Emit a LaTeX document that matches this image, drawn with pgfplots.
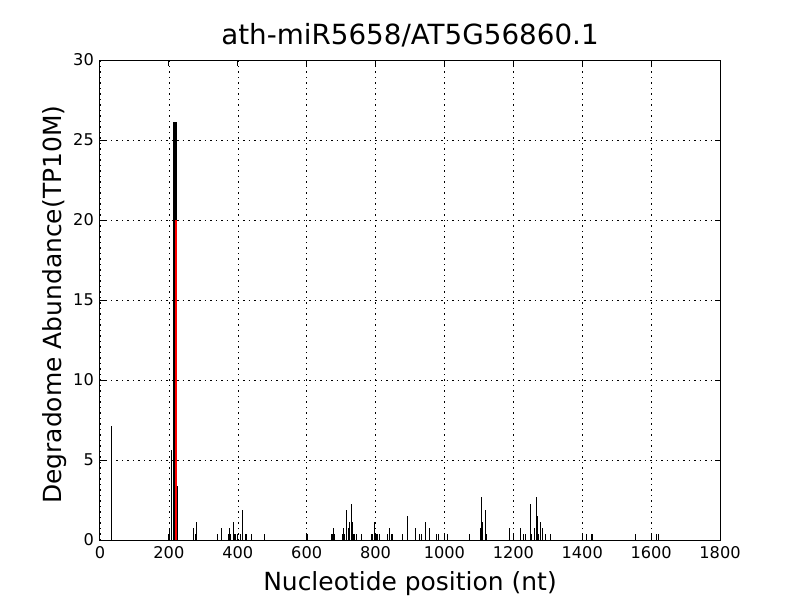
\documentclass[border=0pt]{standalone}
\usepackage{fontspec}
\setmainfont{DejaVu Sans}
\usepackage{pgfplots}
\pgfplotsset{compat=1.18}

\begin{document}
\begin{tikzpicture}
% page = 800x600 px, 1 px = 0.02 cm
\useasboundingbox (-2cm,-1.2cm) rectangle (14cm,10.8cm);
\begin{axis}[
  scale only axis,width=12.4cm,height=9.6cm,
  xmin=0,xmax=1800,ymin=0,ymax=30,
  xtick={0,200,...,1800},ytick={0,5,...,30},
  /pgf/number format/1000 sep={},
  /pgf/number format/assume math mode=true,
  tick label style={font=\fontsize{9.2}{11}\selectfont},
  tick align=inside,major tick length=0.11cm,
  every tick/.style={black,line width=0.02cm},
  axis line style={black,line width=0.02cm},
  grid=major,
  grid style={black,line width=0.01cm,dash pattern=on 0.03cm off 0.08cm},
  title={ath-miR5658/AT5G56860.1},
  title style={font=\fontsize{15.8}{18}\selectfont,at={(axis description cs:0.5,1.0104)},anchor=base},
  xlabel={Nucleotide position (nt)},
  xlabel style={font=\fontsize{14.2}{16}\selectfont,at={(axis description cs:0.5,-0.106)},anchor=base},
  ylabel={Degradome Abundance(TP10M)},
  ylabel style={font=\fontsize{14.2}{16}\selectfont,at={(axis description cs:-0.0613,0.49)},anchor=base,rotate=0},
]
% degradome reads
\addplot[ycomb,black,line width=0.02cm,no marks] coordinates {
(34,7.15)
(199,0.36)(203,0.72)(209,5.6)
(212,26.1)(214.5,26.1)(217,26.1)(219.5,26.1)(221.5,26.1)
(225,3.4)
(270,0.72)(277,0.36)(280,1.1)
(341,0.36)(352,0.72)
(372,0.36)(376,0.72)(379,0.36)(387,1.1)(391,0.36)(394,0.36)(398,0.36)
(409,0.36)(415,1.85)(421,0.36)(425,0.36)(439,0.36)(477,0.36)
(601,0.36)
(671,0.36)(674,0.36)(677,0.74)(681,0.36)
(703,0.36)(707,0.72)(711,0.36)(717,1.85)(721,0.72)(724,1.1)(729,2.22)
(732,1.1)(735,0.36)(739,0.36)(746,0.36)(759,0.36)
(788,0.36)(791,0.36)(796,1.1)(799,0.36)(802,0.36)(806,0.36)(811,0.36)
(836,0.36)(841,0.74)(845,0.36)(850,0.36)(878,0.36)(894,1.48)
(917,0.74)(927,0.36)(932,0.36)(946,1.1)(957,0.72)(976,0.36)(982,0.36)
(999,0.36)(1009,0.36)(1074,0.36)
(1104,0.72)(1107,2.66)(1110,1.1)(1118,1.85)(1121,0.36)
(1190,0.72)(1200,0.36)(1222,0.72)(1230,0.36)(1236,0.36)(1250,2.22)
(1254,0.36)(1260,0.72)(1266,2.66)(1269,1.48)(1272,0.36)(1278,1.1)
(1284,0.72)(1292,0.36)(1307,0.36)
(1402,0.36)(1411,0.36)(1428,0.36)(1431,0.36)(1556,0.36)(1617,0.36)(1620,0.36)
};
% target site
\addplot[ycomb,red,line width=0.045cm,no marks] coordinates {
(220.5,20.0)
};
\end{axis}
\end{tikzpicture}
\end{document}
